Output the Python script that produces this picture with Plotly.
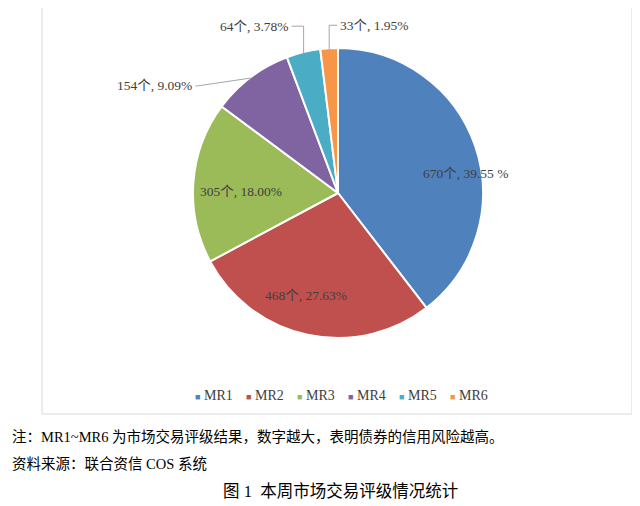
import math
import plotly.graph_objects as go

# ratings and counts
ratings = ["MR1", "MR2", "MR3", "MR4", "MR5", "MR6"]
counts = [670, 468, 305, 154, 64, 33]
pct_labels = ["39.55 %", "27.63%", "18.00%", "9.09%", "3.78%", "1.95%"]
colors = ["#4F81BD", "#C0504D", "#9BBB59", "#8064A2", "#4BACC6", "#F79646"]

# the page body has an 8px margin, so the figure is drawn 8px in
OFF = 8
W, H = 640 - OFF, 506 - OFF
CX, CY, R = 338, 193, 145  # pie centre / radius, page pixels

FONT = "Liberation Serif, Times New Roman, Noto Sans CJK SC, serif"
TXT = "#404040"


def px(x, y):
    return (x - OFF) / W, 1 - (y - OFF) / H


texts = [f"{c}个, {p}" for c, p in zip(counts, pct_labels)]

fig = go.Figure()
x0, y1 = px(CX - R, CY - R)
x1, y0 = px(CX + R, CY + R)
fig.add_trace(go.Pie(
    labels=ratings,
    values=counts,
    textinfo="none",
    sort=False,
    direction="clockwise",
    rotation=0,
    marker=dict(colors=colors, line=dict(color="white", width=2)),
    hoverinfo="label+value+percent",
    showlegend=False,
    domain=dict(x=[x0, x1], y=[y0, y1]),
))

# data-label placement (page pixels): inside labels as offsets from centre,
# outside labels as (elbow dx, elbow dy from slice edge, text gap, side)
inside_pos = {0: (128, -20), 1: (-32, 102), 2: (-97, -1)}
outside_pos = {3: (-54, 8, 2, "right"), 4: (0, -27, 12, "right"), 5: (0, -24, -8, "left")}

total = sum(counts)
cum = 0
for i, c in enumerate(counts):
    mid = (cum + c / 2) / total * 2 * math.pi
    cum += c
    if i in inside_pos:
        dx, dy = inside_pos[i]
        ax, ay = px(CX + dx, CY + dy)
        fig.add_annotation(x=ax, y=ay, xref="paper", yref="paper",
                           text=texts[i], showarrow=False,
                           xanchor="center", yanchor="middle",
                           font=dict(family=FONT, size=13.5, color=TXT))
        continue
    ex = CX + (R - 1) * math.sin(mid)
    ey = CY - (R - 1) * math.cos(mid)
    edx, edy, gap, side = outside_pos[i]
    bx, by = ex + edx, ey + edy
    tx = bx - gap if side == "right" else bx - gap
    pts = [px(ex, ey), px(bx, by), px(tx, by)]
    path = "M {} {} L {} {} L {} {}".format(*[v for p in pts for v in p])
    fig.add_shape(type="path", xref="paper", yref="paper", path=path,
                  line=dict(color="#A6A6A6", width=1))
    lx, ly = px(tx - 1 if side == "right" else tx + 1, by)
    fig.add_annotation(x=lx, y=ly, xref="paper", yref="paper",
                       text=texts[i], showarrow=False,
                       xanchor=side, yanchor="middle",
                       font=dict(family=FONT, size=13.5, color=TXT))

# legend drawn as text items: small coloured square + rating
for i, (name, col) in enumerate(zip(ratings, colors)):
    lx, ly = px(193 + 51 * i, 395)
    fig.add_annotation(
        x=lx, y=ly, xref="paper", yref="paper", showarrow=False,
        xanchor="left", yanchor="middle",
        text=f"<span style='color:{col};font-size:9px'>■</span> {name}",
        font=dict(family=FONT, size=14, color=TXT))

# chart border
bx0, by1 = px(42, 6)
bx1, by0 = px(632, 414)
fig.add_shape(type="rect", xref="paper", yref="paper",
              x0=bx0, x1=bx1, y0=by0, y1=by1,
              line=dict(color="#D9D9D9", width=1))

# notes under the chart
nx, ny = px(10, 436)
fig.add_annotation(x=nx, y=ny, xref="paper", yref="paper",
                   xanchor="left", yanchor="middle", showarrow=False,
                   text="注：MR1~MR6 为市场交易评级结果，数字越大，表明债券的信用风险越高。",
                   font=dict(family=FONT, size=14.5, color="black"))
nx, ny = px(10, 464)
fig.add_annotation(x=nx, y=ny, xref="paper", yref="paper",
                   xanchor="left", yanchor="middle", showarrow=False,
                   text="资料来源：联合资信 COS 系统",
                   font=dict(family=FONT, size=14.5, color="black"))
nx, ny = px(340, 491)
fig.add_annotation(x=nx, y=ny, xref="paper", yref="paper",
                   xanchor="center", yanchor="middle", showarrow=False,
                   text="图 1  本周市场交易评级情况统计",
                   font=dict(family=FONT, size=16.5, color="black"))

fig.update_layout(
    width=W, height=H,
    margin=dict(l=0, r=0, t=0, b=0),
    paper_bgcolor="white",
    plot_bgcolor="white",
    showlegend=False,
)

fig.write_html("out.html")
